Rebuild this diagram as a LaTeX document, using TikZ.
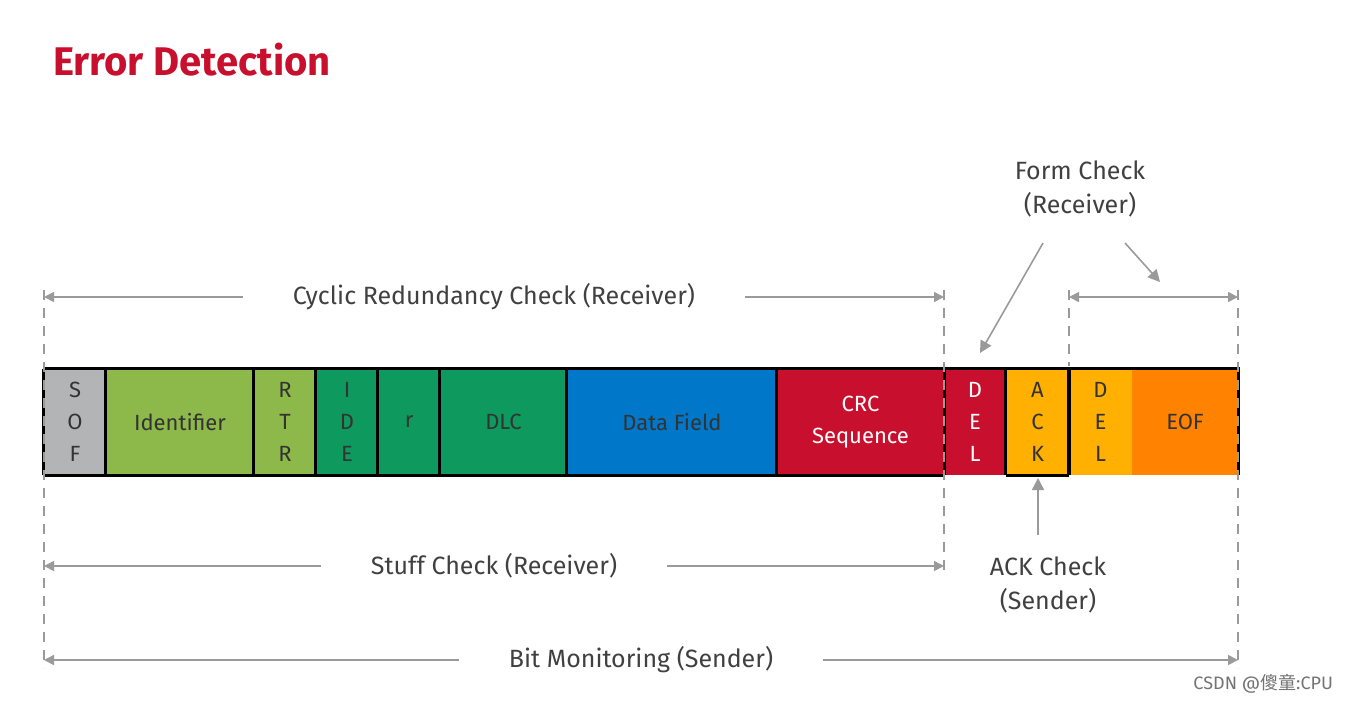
\documentclass[tikz,border=0pt]{standalone}
\usepackage{fontspec}
\setmainfont{Fira Sans}
\newfontfamily\cjk{Noto Sans CJK SC}
\usetikzlibrary{arrows.meta}
\definecolor{gr}{HTML}{B2B4B6}
\definecolor{lg}{HTML}{8DB84A}
\definecolor{dg}{HTML}{0E9A5E}
\definecolor{bl}{HTML}{0077C8}
\definecolor{rd}{HTML}{C8102E}
\definecolor{yl}{HTML}{FFB000}
\definecolor{or}{HTML}{FF8200}
\definecolor{ttl}{HTML}{C8102E}
\definecolor{ln}{HTML}{9A9A9A}
\tikzset{
 fld/.style={draw=none,minimum height=53pt,inner sep=0pt,font=\fontsize{11}{16}\selectfont,text=black!80,align=center},
 dim/.style={ln,line width=0.8pt,{Triangle[length=5pt,width=5pt]}-{Triangle[length=5pt,width=5pt]}},
 arr/.style={ln,line width=0.8pt,-{Triangle[length=6pt,width=6pt]}},
 dsh/.style={ln,line width=0.8pt,dash pattern=on 5pt off 4pt},
 lbl/.style={font=\fontsize{12.5}{17}\selectfont,text=black!75,fill=white,inner sep=2pt,align=center}
}
\begin{document}
\begin{tikzpicture}[x=0.5pt,y=-0.5pt]
\useasboundingbox (0,0) rectangle (1352,703);
\node[anchor=west,text=ttl,font=\fontsize{20}{24}\selectfont\bfseries] (title) at (46,60) {Error Detection};
\node[fld,fill=gr,minimum width=31pt] (sof) at (75,422) {S\\O\\F};
\node[fld,fill=lg,minimum width=74pt] (id) at (180,422) {Identifier};
\node[fld,fill=lg,minimum width=31pt] (rtr) at (285,422) {R\\T\\R};
\node[fld,fill=dg,minimum width=31pt] (ide) at (347,422) {I\\D\\E};
\node[fld,fill=dg,minimum width=31pt] (r) at (409,422) {r};
\node[fld,fill=dg,minimum width=63.5pt] (dlc) at (503.5,422) {DLC};
\node[fld,fill=bl,minimum width=105pt] (data) at (672,422) {Data Field};
\node[fld,fill=rd,minimum width=83.5pt,text=white] (crc) at (860.5,422) {CRC\\Sequence};
\node[fld,fill=rd,minimum width=31pt,text=white] (del1) at (975,422) {D\\E\\L};
\node[fld,fill=yl,minimum width=31.5pt] (ack) at (1037.5,422) {A\\C\\K};
\node[fld,fill=yl,minimum width=31.5pt] (del2) at (1100.5,422) {D\\E\\L};
\node[fld,fill=or,minimum width=53pt] (eof) at (1185,422) {EOF};
\draw[line width=1.6pt] (sof.north west) -- (eof.north east) -- (eof.south east);
\draw[line width=1.6pt] (sof.south west) -- (crc.south east);
\draw[line width=1.6pt] (ack.south west) -- (ack.south east);
\foreach \n in {sof,id,rtr,ide,r,dlc,data,crc,ack,del2}{\draw[line width=1.6pt] (\n.north west) -- (\n.south west);}
\draw[line width=1.6pt] (crc.north east) -- (crc.south east);
\draw[line width=1.6pt] (ack.north east) -- (ack.south east);
\coordinate (g1t) at (44,290); \coordinate (g1b) at (44,668);
\coordinate (g2t) at (944,290); \coordinate (g2b) at (944,572);
\coordinate (g3t) at (1069,290); \coordinate (g3b) at (1069,366);
\coordinate (g4t) at (1238,290); \coordinate (g4b) at (1238,668);
\draw[dsh] (g1t)--(g1b); \draw[dsh] (g2t)--(g2b); \draw[dsh] (g3t)--(g3b); \draw[dsh] (g4t)--(g4b);
\coordinate (c1) at (44,297); \coordinate (c2) at (944,297);
\draw[dim] (c1)--(c2) node[lbl,midway,inner xsep=25pt] {Cyclic Redundancy Check (Receiver)};
\coordinate (s1) at (44,566); \coordinate (s2) at (944,566);
\draw[dim] (s1)--(s2) node[lbl,pos=0.5,inner xsep=25pt] {Stuff Check (Receiver)};
\coordinate (b1) at (44,660); \coordinate (b2) at (1238,660);
\draw[dim] (b1)--(b2) node[lbl,pos=0.5,inner xsep=25pt] {Bit Monitoring (Sender)};
\coordinate (f1) at (1069,297); \coordinate (f2) at (1238,297);
\draw[dim] (f1)--(f2);
\node[lbl] (form) at (1080,189) {Form Check\\(Receiver)};
\coordinate (fa) at (1043,243); \coordinate (fb) at (980,353);
\coordinate (fc) at (1125,243); \coordinate (fd) at (1160,282);
\draw[arr] (fa)--(fb); \draw[arr] (fc)--(fd);
\node[lbl] (ackc) at (1048,585) {ACK Check\\(Sender)};
\coordinate (aa) at (1038,535); \coordinate (ab) at (1038,478);
\draw[arr] (aa)--(ab);
\node[text=black!55,font=\fontsize{9}{10}\selectfont,anchor=east] (wm) at (1340,684) {CSDN @{\cjk 傻童}:CPU};
\end{tikzpicture}
\end{document}
